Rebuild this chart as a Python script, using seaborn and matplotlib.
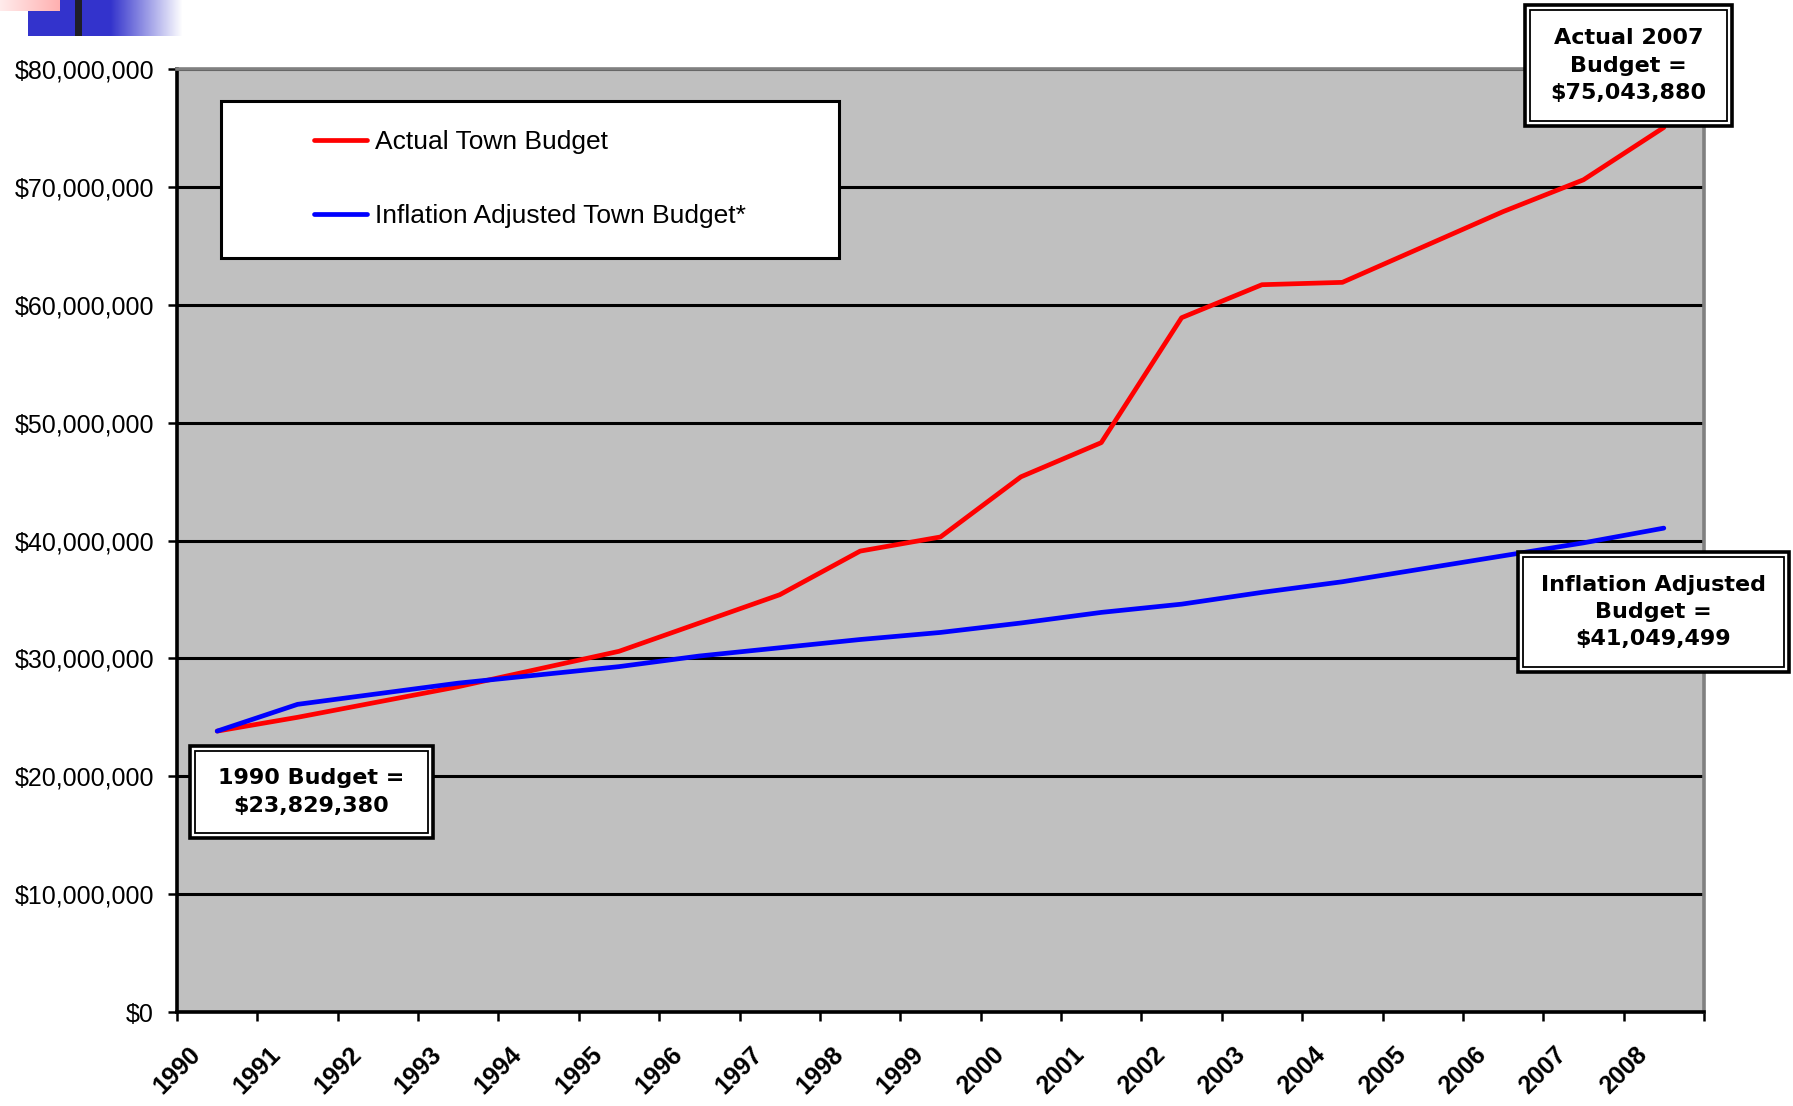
import numpy as np
import pandas as pd
import seaborn as sns
import matplotlib.pyplot as plt
from matplotlib.patches import Rectangle
from matplotlib.ticker import FuncFormatter

# budget values in millions of dollars
years = list(range(1990, 2009))
actual_budget = [23.83, 25.0, 26.3, 27.6, 29.1, 30.6, 33.0, 35.4, 39.1, 40.3,
                 45.4, 48.3, 58.9, 61.7, 61.9, 64.9, 67.9, 70.6, 75.04]
inflation_budget = [23.83, 26.1, 27.0, 27.9, 28.6, 29.3, 30.2, 30.9, 31.6, 32.2,
                    33.0, 33.9, 34.6, 35.6, 36.5, 37.6, 38.7, 39.8, 41.05]
year_labels = [str(y) for y in years] + ['']
y_ticks = [0, 10, 20, 30, 40, 50, 60, 70, 80]

sns.set_style('white')
plt.rcParams['font.family'] = ['Liberation Sans', 'DejaVu Sans']
plt.rcParams['text.color'] = 'black'
plt.rcParams['xtick.color'] = 'black'
plt.rcParams['ytick.color'] = 'black'

W, H = 1793, 1106
fig = plt.figure(figsize=(W / 100, H / 100), dpi=100)
ax = fig.add_axes([177 / W, 1 - 1012 / H, (1704 - 177) / W, (1012 - 69) / H])
ax.set_facecolor('#c0c0c0')

df = pd.DataFrame({
    'pos': np.arange(len(years)) + 0.5,
    'actual': np.array(actual_budget) * 1e6,
    'inflation': np.array(inflation_budget) * 1e6,
})

sns.lineplot(x='pos', y='actual', data=df, color='#ff0000', lw=3.4,
             label='Actual Town Budget', ax=ax)
sns.lineplot(x='pos', y='inflation', data=df, color='#0000ff', lw=3.4,
             label='Inflation Adjusted Town Budget*', ax=ax)

ax.set_xlim(0, len(years))
ax.set_ylim(0, 80e6)
ax.set_xticks(range(len(year_labels)))
ax.set_xticklabels(year_labels, rotation=45, ha='center', fontsize=18, fontweight='bold')
ax.set_yticks([v * 1e6 for v in y_ticks])
ax.yaxis.set_major_formatter(FuncFormatter(lambda v, p: f'${v:,.0f}'))
ax.tick_params(axis='both', direction='out', length=6.5, width=1.8, color='black',
               left=True, bottom=True)
ax.tick_params(axis='x', pad=15)
ax.tick_params(axis='y', pad=10, labelsize=18)
ax.set_xlabel('')
ax.set_ylabel('')

ax.yaxis.grid(True, color='black', lw=2.2)
ax.xaxis.grid(False)
ax.set_axisbelow(True)
for side in ['left', 'bottom']:
    ax.spines[side].set_color('black')
    ax.spines[side].set_linewidth(2.6)
for side in ['top', 'right']:
    ax.spines[side].set_color('#808080')
    ax.spines[side].set_linewidth(2.6)

# legend with its own white frame
ax.add_patch(Rectangle((0.0288, 0.7996), 0.4047, 0.1664, transform=ax.transAxes,
                       facecolor='white', edgecolor='black', lw=2.2, zorder=4))
leg = ax.legend(loc='center', bbox_to_anchor=(0.231, 0.883), frameon=False,
                fontsize=19, handlelength=2.0, handletextpad=0.3, labelspacing=1.9,
                labelcolor='black')
leg.set_zorder(5)


def note_box(x0, y0, x1, y1, text):
    # double-bordered callout, pixel box measured from top-left
    for inset, lw in [(0, 2.6), (5, 1.3)]:
        fig.add_artist(Rectangle(((x0 + inset) / W, 1 - (y1 - inset) / H),
                                 (x1 - x0 - 2 * inset) / W, (y1 - y0 - 2 * inset) / H,
                                 transform=fig.transFigure, facecolor='white',
                                 edgecolor='black', lw=lw, zorder=10))
    fig.text((x0 + x1) / 2 / W, 1 - (y0 + y1) / 2 / H, text, ha='center', va='center',
             multialignment='center', fontsize=16, fontweight='bold', color='black',
             family='DejaVu Sans', linespacing=1.45, zorder=11)


note_box(1525, 5, 1732, 126, 'Actual 2007\nBudget =\n$75,043,880')
note_box(1518, 552, 1789, 672, 'Inflation Adjusted\nBudget =\n$41,049,499')
note_box(190, 746, 433, 838, '1990 Budget =\n$23,829,380')

# slide decoration in the top-left corner
logo = np.ones((36, 190, 3))
blue = np.array([51, 51, 204]) / 255
for x in range(28, 190):
    t = 0.0 if x < 110 else min(1.0, (x - 110) / 72)
    logo[:, x] = blue * (1 - t) + t
logo[:, 75:82] = np.array([30, 30, 40]) / 255
for x in range(0, 60):
    logo[:11, x] = np.array([255, 235 - x, 235 - x]) / 255
ax_logo = fig.add_axes([0, 1 - 36 / H, 190 / W, 36 / H])
ax_logo.imshow(logo, aspect='auto', interpolation='nearest')
ax_logo.axis('off')

fig.savefig('out.png', dpi=100)
